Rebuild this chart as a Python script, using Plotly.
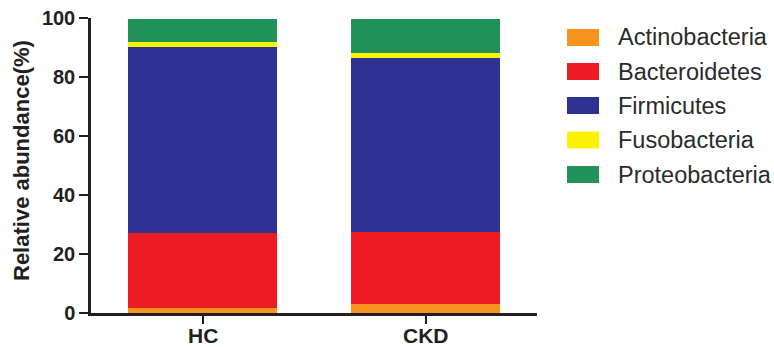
import plotly.graph_objects as go

groups = ["HC", "CKD"]
phyla = ["Actinobacteria", "Bacteroidetes", "Firmicutes", "Fusobacteria", "Proteobacteria"]
actinobacteria = [1.7, 3.1]
bacteroidetes = [25.4, 24.5]
firmicutes = [63.1, 58.7]
fusobacteria = [1.6, 2.0]
proteobacteria = [7.7, 11.2]
colors = ["#F7941D", "#ED1C24", "#2E3192", "#FFF200", "#21925A"]
y_ticks = [0, 20, 40, 60, 80, 100]

series = [actinobacteria, bacteroidetes, firmicutes, fusobacteria, proteobacteria]

fig = go.Figure()
for name, vals, col in zip(phyla, series, colors):
    fig.add_trace(go.Bar(x=groups, y=vals, name=name, marker=dict(color=col, line=dict(width=0)),
                         width=0.665, showlegend=False))

ink = "#231F20"
fam = "Liberation Sans, Arial, sans-serif"
fig.update_layout(
    barmode="stack",
    width=774, height=347,
    margin=dict(l=91, r=237, t=18, b=34),
    paper_bgcolor="white", plot_bgcolor="white",
    font=dict(family=fam, color=ink),
    xaxis=dict(range=[-0.5, 1.5], showline=True, linecolor=ink, linewidth=2.5,
               ticks="outside", ticklen=8, tickwidth=2, tickcolor=ink,
               showticklabels=False,
               showgrid=False, zeroline=False, automargin=False),
    yaxis=dict(range=[0, 100], tickvals=y_ticks, showline=True, linecolor=ink, linewidth=2.5,
               ticks="outside", ticklen=9, tickwidth=2, tickcolor=ink,
               tickfont=dict(size=20, family=fam, weight="bold"),
               showgrid=False, zeroline=False, automargin=False),
)

W, H = 774, 347
L, R, T, B = 91, 237, 18, 34
pw, ph = W - L - R, H - T - B

def px_to_paper_x(px):
    return (px - L) / pw

def px_to_paper_y(py):
    return 1 - (py - T) / ph

# Category labels under the x-axis ticks
for g in groups:
    fig.add_annotation(xref="x", yref="paper", x=g, y=px_to_paper_y(335),
                       text=g, showarrow=False, xanchor="center", yanchor="middle",
                       font=dict(size=21, family=fam, weight="bold", color=ink))

# Vertical axis title
fig.add_annotation(xref="paper", yref="paper", x=px_to_paper_x(21), y=px_to_paper_y(161),
                   text="Relative abundance(%)", showarrow=False, textangle=-90,
                   xanchor="center", yanchor="middle",
                   font=dict(size=22, family=fam, weight="bold", color=ink))

# Custom legend: wide swatches with labels to the right of the plot
x0_px, x1_px, text_px = 567, 599, 616
row_px = [37.5, 71.5, 105.5, 140, 174.5]

for name, col, cy in zip(phyla, colors, row_px):
    fig.add_shape(type="rect", xref="paper", yref="paper",
                  x0=px_to_paper_x(x0_px), x1=px_to_paper_x(x1_px),
                  y0=px_to_paper_y(cy + 8.5), y1=px_to_paper_y(cy - 8.5),
                  fillcolor=col, line=dict(width=0))
    fig.add_annotation(xref="paper", yref="paper", x=px_to_paper_x(text_px), y=px_to_paper_y(cy),
                       text=name, showarrow=False, xanchor="left", yanchor="middle",
                       font=dict(size=23.5, color="#2B2B2B", family=fam))

fig.write_html("out.html")
